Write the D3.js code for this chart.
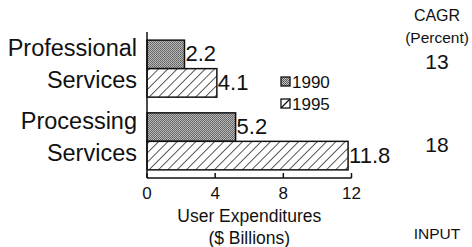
<!DOCTYPE html>
<html>
<head>
<meta charset="utf-8">
<script src="https://cdn.jsdelivr.net/npm/d3@7"></script>
<style>
  html, body { margin: 0; padding: 0; background: #fff; }
  svg { display: block; font-family: "Liberation Sans", Arial, Helvetica, sans-serif; }
</style>
</head>
<body>
<div id="chart"></div>
<script>
// categories and values
const categories = [["Professional", "Services"], ["Processing", "Services"]]
const years = ["1990", "1995"]
const values1990 = [2.2, 5.2]
const values1995 = [4.1, 11.8]
const cagr = [13, 18]
const xTicks = [0, 4, 8, 12]

const width = 472, height = 247
// vertical offset of the CAGR numbers inside each row
const cagrDy = [21, 31]

const svg = d3.select("#chart").append("svg")
  .attr("width", width).attr("height", height)

// fill patterns
const defs = svg.append("defs")
// stipple for 1990
const dots = defs.append("pattern")
  .attr("id", "stipple")
  .attr("patternUnits", "userSpaceOnUse")
  .attr("width", 2).attr("height", 2)
dots.append("rect").attr("width", 2).attr("height", 2).attr("fill", "#c8c8c8")
dots.append("rect").attr("x", 0).attr("y", 0).attr("width", 1).attr("height", 1).attr("fill", "#505050")
dots.append("rect").attr("x", 1).attr("y", 1).attr("width", 1).attr("height", 1).attr("fill", "#606060")
// diagonal hatch for 1995
const hatch = defs.append("pattern")
  .attr("id", "hatch")
  .attr("patternUnits", "userSpaceOnUse")
  .attr("width", 6.6).attr("height", 6.6)
  .attr("patternTransform", "rotate(45)")
hatch.append("rect").attr("width", 6.6).attr("height", 6.6).attr("fill", "#fff")
hatch.append("line")
  .attr("x1", 0).attr("y1", 0).attr("x2", 0).attr("y2", 6.6)
  .attr("stroke", "#111").attr("stroke-width", 1.4)

const fills = { "1990": "url(#stipple)", "1995": "url(#hatch)" }

// scales
const x = d3.scaleLinear().domain([0, 12]).range([147, 351.5])
const y = d3.scaleBand()
  .domain(d3.range(categories.length))
  .range([32, 178])
  .paddingInner(0.216)
  .paddingOuter(0.112)
const ySub = d3.scaleBand().domain(years).range([0, y.bandwidth()])

const rows = categories.map((c, i) => ({
  i: i,
  label: c,
  vals: [
    { year: "1990", v: values1990[i] },
    { year: "1995", v: values1995[i] }
  ],
  cagr: cagr[i]
}))

// bars
const groups = svg.append("g").selectAll("g")
  .data(rows)
  .enter()
  .append("g")
  .attr("transform", d => `translate(0,${y(d.i)})`)

groups.selectAll("rect")
  .data(d => d.vals)
  .enter()
  .append("rect")
  .attr("x", x(0))
  .attr("y", d => ySub(d.year))
  .attr("width", d => x(d.v) - x(0))
  .attr("height", ySub.bandwidth())
  .attr("fill", d => fills[d.year])
  .attr("stroke", "#111")
  .attr("stroke-width", 1.5)

// value labels
groups.selectAll("text.val")
  .data(d => d.vals)
  .enter()
  .append("text")
  .attr("class", "val")
  .attr("x", d => x(d.v) + 1)
  .attr("y", d => ySub(d.year) + ySub.bandwidth() / 2 - 1)
  .attr("dy", "0.36em")
  .style("font-size", "22px")
  .attr("fill", "#111")
  .text(d => d.v.toFixed(1))

// category labels
groups.append("text")
  .attr("text-anchor", "end")
  .style("font-size", "23.5px")
  .attr("fill", "#111")
  .selectAll("tspan")
  .data(d => d.label)
  .enter()
  .append("tspan")
  .attr("x", 137)
  .attr("y", (d, j) => 16 + j * 32)
  .text(d => d)

// CAGR values
groups.append("text")
  .attr("text-anchor", "middle")
  .attr("x", 437)
  .attr("y", d => cagrDy[d.i] + 8)
  .style("font-size", "21px")
  .attr("fill", "#111")
  .text(d => d.cagr)

// axes
const axisG = svg.append("g")
axisG.append("line")
  .attr("x1", x(0)).attr("x2", x(0))
  .attr("y1", 32).attr("y2", 178)
  .attr("stroke", "#111").attr("stroke-width", 1.5)
axisG.append("line")
  .attr("x1", x(0)).attr("x2", x(12))
  .attr("y1", 178).attr("y2", 178)
  .attr("stroke", "#111").attr("stroke-width", 1.5)
axisG.selectAll("line.tick")
  .data(xTicks)
  .enter()
  .append("line")
  .attr("class", "tick")
  .attr("x1", d => x(d)).attr("x2", d => x(d))
  .attr("y1", 173).attr("y2", 178)
  .attr("stroke", "#111").attr("stroke-width", 1.5)
axisG.selectAll("text.tick")
  .data(xTicks)
  .enter()
  .append("text")
  .attr("class", "tick")
  .attr("x", d => x(d))
  .attr("y", 199)
  .attr("text-anchor", "middle")
  .style("font-size", "17px")
  .attr("fill", "#111")
  .text(d => d)

// axis title
svg.append("text")
  .attr("x", x(6)).attr("y", 222)
  .attr("text-anchor", "middle")
  .style("font-size", "17.5px")
  .attr("fill", "#111")
  .text("User Expenditures")
svg.append("text")
  .attr("x", x(6)).attr("y", 244)
  .attr("text-anchor", "middle")
  .style("font-size", "17.5px")
  .attr("fill", "#111")
  .text("($ Billions)")

// legend
const legend = svg.append("g").selectAll("g")
  .data(years)
  .enter()
  .append("g")
  .attr("transform", (d, i) => `translate(281,${77 + i * 22})`)
legend.append("rect")
  .attr("width", 9).attr("height", 9)
  .attr("fill", d => d === "1990" ? fills[d] : "#fff")
  .attr("stroke", "#111").attr("stroke-width", 1.3)
legend.filter(d => d === "1995").append("line")
  .attr("x1", 0).attr("y1", 9).attr("x2", 9).attr("y2", 0)
  .attr("stroke", "#111").attr("stroke-width", 1.2)
legend.append("text")
  .attr("x", 11).attr("y", 5)
  .attr("dy", "0.36em")
  .style("font-size", "17px")
  .attr("fill", "#111")
  .text(d => d)

// CAGR header and footer
svg.append("text").attr("x", 437).attr("y", 21).attr("text-anchor", "middle")
  .style("font-size", "16px").attr("fill", "#111").text("CAGR")
svg.append("text").attr("x", 437).attr("y", 43).attr("text-anchor", "middle")
  .style("font-size", "15.5px").attr("fill", "#111").text("(Percent)")
svg.append("text").attr("x", 437).attr("y", 239).attr("text-anchor", "middle")
  .style("font-size", "15.5px").attr("fill", "#111").text("INPUT")
</script>
</body>
</html>
